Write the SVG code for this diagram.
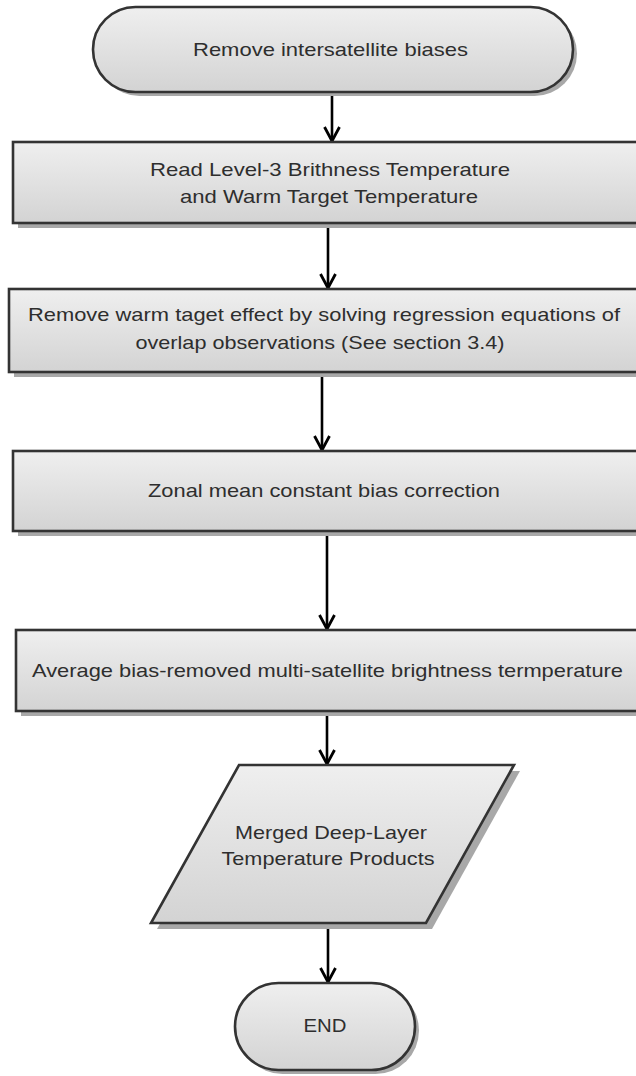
<svg xmlns="http://www.w3.org/2000/svg" width="636" height="1076" viewBox="0 0 636 1076">
  <defs>
    <linearGradient id="fillGrad" x1="0" y1="0" x2="0" y2="1">
      <stop offset="0" stop-color="#efefef"/>
      <stop offset="1" stop-color="#d3d3d3"/>
    </linearGradient>
    <marker id="arrow" markerUnits="userSpaceOnUse" markerWidth="20" markerHeight="20" refX="16" refY="10" orient="auto" viewBox="0 0 20 20">
      <path d="M2,2.5 L16,10 L2,17.5" fill="none" stroke="#000" stroke-width="2.8" stroke-linejoin="miter"/>
    </marker>
  </defs>
  <style>
    .shape { fill: url(#fillGrad); stroke: #333333; stroke-width: 2.6; }
    .shadow { fill: #a8a8a8; stroke: none; }
    .label { font-family: "Liberation Sans", Arial, sans-serif; font-size: 19px; fill: #2e2e2e; text-anchor: middle; }
    .conn { stroke: #000; stroke-width: 2.6; fill: none; marker-end: url(#arrow); }
  </style>
  <rect width="636" height="1076" fill="#ffffff"/>

  <g id="connectors">
    <line class="conn" x1="332" y1="93" x2="332" y2="141"/>
    <line class="conn" x1="328" y1="224" x2="328" y2="288"/>
    <line class="conn" x1="322" y1="373" x2="322" y2="450"/>
    <line class="conn" x1="327" y1="532" x2="327" y2="629"/>
    <line class="conn" x1="327" y1="712" x2="327" y2="764"/>
    <line class="conn" x1="328" y1="924" x2="328" y2="982"/>
  </g>

  <g id="start">
    <rect class="shadow" x="97" y="11" width="480" height="85" rx="42.5" ry="42.5"/>
    <rect class="shape" x="93" y="7" width="480" height="85" rx="42.5" ry="42.5"/>
    <text class="label" x="330.5" y="56" textLength="275" lengthAdjust="spacingAndGlyphs">Remove intersatellite biases</text>
  </g>

  <g id="read">
    <rect class="shadow" x="18" y="147" width="650" height="81"/>
    <rect class="shape" x="13" y="142" width="650" height="81"/>
    <text class="label" x="330" y="176" textLength="360" lengthAdjust="spacingAndGlyphs">Read Level-3 Brithness Temperature</text>
    <text class="label" x="329" y="203" textLength="298" lengthAdjust="spacingAndGlyphs">and Warm Target Temperature</text>
  </g>

  <g id="remove-warm">
    <rect class="shadow" x="14" y="294" width="650" height="83"/>
    <rect class="shape" x="9" y="289" width="650" height="83"/>
    <text class="label" x="324" y="321" textLength="592" lengthAdjust="spacingAndGlyphs">Remove warm taget effect by solving regression equations of</text>
    <text class="label" x="320" y="349" textLength="369" lengthAdjust="spacingAndGlyphs">overlap observations (See section 3.4)</text>
  </g>

  <g id="zonal">
    <rect class="shadow" x="18" y="456" width="650" height="80"/>
    <rect class="shape" x="13" y="451" width="650" height="80"/>
    <text class="label" x="324" y="497" textLength="352" lengthAdjust="spacingAndGlyphs">Zonal mean constant bias correction</text>
  </g>

  <g id="average">
    <rect class="shadow" x="21" y="635" width="650" height="81"/>
    <rect class="shape" x="16" y="630" width="650" height="81"/>
    <text class="label" x="327.5" y="677" textLength="591" lengthAdjust="spacingAndGlyphs">Average bias-removed multi-satellite brightness termperature</text>
  </g>

  <g id="merged">
    <polygon class="shadow" points="245,771 520,771 432,929 157,929"/>
    <polygon class="shape" points="239,765 514,765 426,923 151,923"/>
    <text class="label" x="331" y="839" textLength="192" lengthAdjust="spacingAndGlyphs">Merged Deep-Layer</text>
    <text class="label" x="328" y="865" textLength="213" lengthAdjust="spacingAndGlyphs">Temperature Products</text>
  </g>

  <g id="end">
    <rect class="shadow" x="239" y="987" width="180" height="87" rx="43.5" ry="43.5"/>
    <rect class="shape" x="235" y="983" width="180" height="87" rx="43.5" ry="43.5"/>
    <text class="label" x="325" y="1032" textLength="43" lengthAdjust="spacingAndGlyphs">END</text>
  </g>
</svg>
